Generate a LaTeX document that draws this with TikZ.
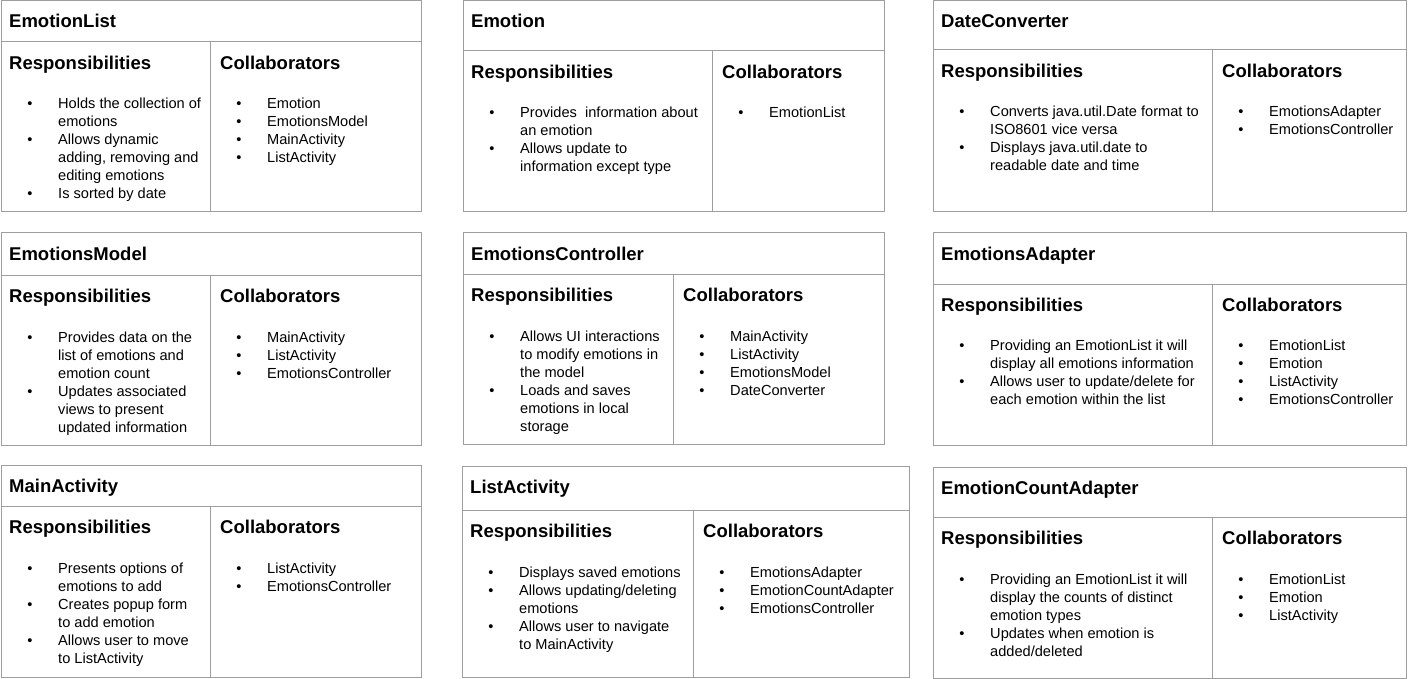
\documentclass[tikz,border=0pt]{standalone}
\usepackage{fontspec}
\setmainfont{Liberation Sans}
\definecolor{rulegray}{HTML}{9E9E9E}
\tikzset{
  cardline/.style={draw=rulegray, line width=1pt},
  ttl/.style={inner sep=0pt, anchor=base west, font=\fontsize{18.5}{22}\selectfont\bfseries},
  bodytxt/.style={inner sep=0pt, font=\fontsize{14.6}{18}\selectfont},
}
% #1 name, #2 L, #3 T, #4 R, #5 B, #6 header line y, #7 divider x, #8 title
\newcommand\crccard[8]{%
  \draw[cardline] (#2,#3) rectangle (#4,#5);
  \draw[cardline] (#2,#6) -- (#4,#6);
  \draw[cardline] (#7,#6) -- (#7,#5);
  \node[ttl] (#1-title) at (#2+8,#3+27) {#8};
  \node[ttl] (#1-resp) at (#2+8,#6+27.5) {Responsibilities};
  \node[ttl] (#1-coll) at (#7+10,#6+27.5) {Collaborators};
}
% #1 name prefix, #2 column left x, #3 first baseline y, #4 list of flag/text
\newcommand\crclist[4]{%
  \foreach \isb/\txt [count=\i from 0] in {#4} {
    \node[bodytxt, anchor=base west] (#1-\i) at (#2+57,#3+18*\i) {\txt};
    \ifnum\isb=1
      \node[bodytxt, anchor=base] (#1-b\i) at (#2+29,#3+18*\i) {\textbullet};
    \fi
  }
}
\begin{document}
\begin{tikzpicture}[x=1pt,y=-1pt]
\useasboundingbox (0,0) rectangle (1408,679);
\fill[white] (0,0) rectangle (1408,679);

% Row 1
\crccard{el}{1}{1}{421}{212}{42}{210}{EmotionList}
\crclist{elr}{1}{109}{1/Holds the collection of, 0/emotions, 1/Allows dynamic, 0/{adding, removing and}, 0/editing emotions, 1/Is sorted by date}
\crclist{elc}{210}{109}{1/Emotion, 1/EmotionsModel, 1/MainActivity, 1/ListActivity}

\crccard{em}{463}{1}{884}{212}{51}{712}{Emotion}
\crclist{emr}{463}{118}{1/Provides\ \ information about, 0/an emotion, 1/Allows update to, 0/information except type}
\crclist{emc}{712}{118}{1/EmotionList}

\crccard{dc}{933}{1}{1406}{212}{50}{1212}{DateConverter}
\crclist{dcr}{933}{117}{1/Converts java.util.Date format to, 0/ISO8601 vice versa, 1/Displays java.util.date to, 0/readable date and time}
\crclist{dcc}{1212}{117}{1/EmotionsAdapter, 1/EmotionsController}

% Row 2
\crccard{mo}{1}{233}{421}{445}{275}{210}{EmotionsModel}
\crclist{mor}{1}{342}{1/Provides data on the, 0/list of emotions and, 0/emotion count, 1/Updates associated, 0/views to present, 0/updated information}
\crclist{moc}{210}{342}{1/MainActivity, 1/ListActivity, 1/EmotionsController}

\crccard{ct}{463}{233}{884}{444}{274}{673}{EmotionsController}
\crclist{ctr}{463}{341}{1/Allows UI interactions, 0/to modify emotions in, 0/the model, 1/Loads and saves, 0/emotions in local, 0/storage}
\crclist{ctc}{673}{341}{1/MainActivity, 1/ListActivity, 1/EmotionsModel, 1/DateConverter}

\crccard{ad}{933}{233}{1406}{445}{284}{1212}{EmotionsAdapter}
\crclist{adr}{933}{350}{1/Providing an EmotionList it will, 0/display all emotions information, 1/{Allows user to update/delete for}, 0/each emotion within the list}
\crclist{adc}{1212}{350}{1/EmotionList, 1/Emotion, 1/ListActivity, 1/EmotionsController}

% Row 3
\crccard{ma}{1}{465}{421}{677}{506}{210}{MainActivity}
\crclist{mar}{1}{573}{1/Presents options of, 0/emotions to add, 1/Creates popup form, 0/to add emotion, 1/Allows user to move, 0/to ListActivity}
\crclist{mac}{210}{573}{1/ListActivity, 1/EmotionsController}

\crccard{la}{462}{466}{909}{677}{510}{693}{ListActivity}
\crclist{lar}{462}{577}{1/Displays saved emotions, 1/{Allows updating/deleting}, 0/emotions, 1/Allows user to navigate, 0/to MainActivity}
\crclist{lac}{693}{577}{1/EmotionsAdapter, 1/EmotionCountAdapter, 1/EmotionsController}

\crccard{ca}{933}{467}{1406}{678}{517}{1212}{EmotionCountAdapter}
\crclist{car}{933}{584}{1/Providing an EmotionList it will, 0/display the counts of distinct, 0/emotion types, 1/Updates when emotion is, 0/{added/deleted}}
\crclist{cac}{1212}{584}{1/EmotionList, 1/Emotion, 1/ListActivity}
\end{tikzpicture}
\end{document}
